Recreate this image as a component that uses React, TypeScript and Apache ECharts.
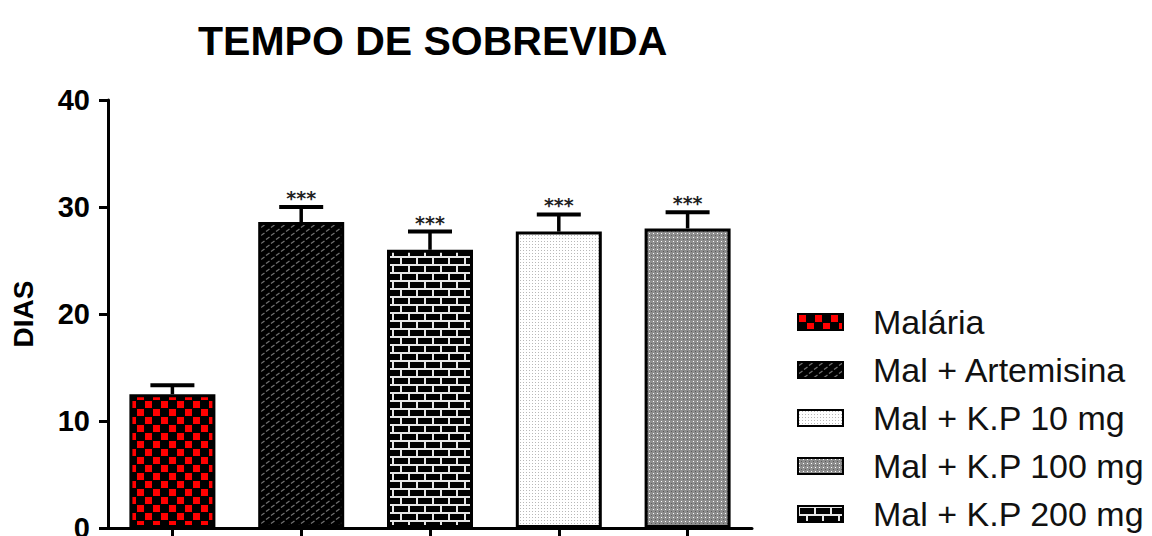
import React, { useEffect, useRef } from 'react';
import * as echarts from 'echarts';

const categories = ['Malária', 'Mal + Artemisina', 'Mal + K.P 200 mg', 'Mal + K.P 10 mg', 'Mal + K.P 100 mg'];
const means = [12.5, 28.6, 26.0, 27.7, 28.0];
const sem = [0.85, 1.4, 1.7, 1.6, 1.5];
const marks = ['', '***', '***', '***', '***'];
const legendOrder = ['Malária', 'Mal + Artemisina', 'Mal + K.P 10 mg', 'Mal + K.P 100 mg', 'Mal + K.P 200 mg'];
const yMin = 0;
const yMax = 40;
const yStep = 10;

function tile(w: number, h: number, draw: (c: CanvasRenderingContext2D) => void) {
  const cv = document.createElement('canvas');
  cv.width = w;
  cv.height = h;
  const c = cv.getContext('2d') as CanvasRenderingContext2D;
  draw(c);
  return cv;
}

function makePatterns(): Record<string, any> {
  const red = tile(16, 16, (c) => {
    c.fillStyle = '#000';
    c.fillRect(0, 0, 16, 16);
    c.fillStyle = '#ff0000';
    c.fillRect(1, 1, 7, 7);
    c.fillRect(9, 9, 7, 7);
  });
  const dark = tile(10, 8, (c) => {
    c.fillStyle = '#000';
    c.fillRect(0, 0, 10, 8);
    c.strokeStyle = '#707070';
    c.lineWidth = 1.3;
    c.beginPath();
    c.moveTo(1, 3.5);
    c.lineTo(4.5, 1);
    c.moveTo(6, 7.5);
    c.lineTo(9.5, 5);
    c.stroke();
  });
  const brick = tile(16, 16, (c) => {
    c.fillStyle = '#000';
    c.fillRect(0, 0, 16, 16);
    c.fillStyle = '#e6e6e6';
    c.fillRect(0, 0, 16, 2);
    c.fillRect(0, 8, 16, 2);
    c.fillRect(0, 0, 2, 8);
    c.fillRect(8, 8, 2, 8);
  });
  const light = tile(3, 3, (c) => {
    c.fillStyle = '#ffffff';
    c.fillRect(0, 0, 3, 3);
    c.fillStyle = '#b8b8b8';
    c.fillRect(1, 1, 1, 1);
  });
  const gray = tile(4, 4, (c) => {
    c.fillStyle = '#8e8e8e';
    c.fillRect(0, 0, 4, 4);
    c.fillStyle = '#ffffff';
    c.fillRect(1, 1, 1, 1);
    c.fillStyle = '#5a5a5a';
    c.fillRect(3, 3, 1, 1);
  });
  const mk = (cv: HTMLCanvasElement) => ({ image: cv, repeat: 'repeat' });
  return {
    'Malária': mk(red),
    'Mal + Artemisina': mk(dark),
    'Mal + K.P 200 mg': mk(brick),
    'Mal + K.P 10 mg': mk(light),
    'Mal + K.P 100 mg': mk(gray),
  };
}

export default function App() {
  const ref = useRef<HTMLDivElement>(null);
  useEffect(() => {
    if (!ref.current) return;
    const chart = echarts.init(ref.current, undefined, { renderer: 'svg' });
    const patterns = makePatterns();

    const barSeries = categories.map((name, i) => ({
      type: 'bar',
      name,
      stack: 'groups',
      barWidth: 86,
      data: categories.map((_, j) => (j === i ? means[i] : '-')),
      itemStyle: { color: patterns[name], borderColor: '#000', borderWidth: 3 },
      z: 2,
    }));

    const errSeries = {
      type: 'custom',
      name: 'erro',
      z: 3,
      encode: { x: 0, y: 2 },
      data: categories.map((_, i) => [i, means[i], means[i] + sem[i]]),
      renderItem: (params: any, api: any) => {
        const x = api.value(0);
        const p0 = api.coord([x, api.value(1)]);
        const p1 = api.coord([x, api.value(2)]);
        const half = 22;
        const children: any[] = [
          { type: 'line', shape: { x1: p0[0], y1: p0[1], x2: p1[0], y2: p1[1] }, style: { stroke: '#000', lineWidth: 3.5 } },
          { type: 'line', shape: { x1: p1[0] - half, y1: p1[1], x2: p1[0] + half, y2: p1[1] }, style: { stroke: '#000', lineWidth: 4 } },
        ];
        const m = marks[params.dataIndex];
        if (m) {
          children.push({
            type: 'text',
            x: p1[0],
            y: p1[1] - 9,
            style: {
              text: m,
              fill: '#222',
              font: 'bold 19px "DejaVu Sans"',
              align: 'center',
              verticalAlign: 'middle',
            },
          });
        }
        return { type: 'group', children };
      },
    };

    chart.setOption({
      animation: false,
      backgroundColor: '#ffffff',
      title: {
        text: 'TEMPO DE SOBREVIDA',
        left: 193,
        top: 15,
        textStyle: { fontFamily: 'Liberation Sans', fontWeight: 'bold', fontSize: 41, color: '#000' },
      },
      legend: {
        orient: 'vertical',
        left: 797,
        top: 305,
        bottom: 0,
        padding: 0,
        itemWidth: 45,
        itemHeight: 16,
        itemGap: 14,
        icon: 'rect',
        data: legendOrder,
        textStyle: { fontFamily: 'Liberation Sans', fontSize: 34, color: '#111', lineHeight: 34, padding: [0, 0, 0, 25] },
      },
      grid: { left: 108, top: 100, right: 400, bottom: 8, outerBoundsMode: 'none', containLabel: false },
      xAxis: {
        type: 'category',
        data: categories,
        axisLine: { lineStyle: { color: '#000', width: 3 } },
        axisTick: { show: true, alignWithLabel: true, length: 9, lineStyle: { color: '#000', width: 3 } },
        axisLabel: { show: false },
      },
      yAxis: {
        type: 'value',
        min: yMin,
        max: yMax,
        interval: yStep,
        name: 'DIAS',
        nameLocation: 'middle',
        nameRotate: 90,
        nameGap: 71,
        nameTextStyle: { fontFamily: 'Liberation Sans', fontWeight: 'bold', fontSize: 28, color: '#000' },
        axisLine: { show: true, lineStyle: { color: '#000', width: 3 } },
        axisTick: { show: true, length: 9, lineStyle: { color: '#000', width: 3 } },
        axisLabel: { margin: 18, fontFamily: 'Liberation Sans', fontWeight: 'bold', fontSize: 29, color: '#000' },
        splitLine: { show: false },
      },
      series: [...barSeries, errSeries],
    });
    return () => chart.dispose();
  }, []);
  return <div ref={ref} style={{ position: 'absolute', left: 0, top: 0, width: 1152, height: 536 }} />;
}
